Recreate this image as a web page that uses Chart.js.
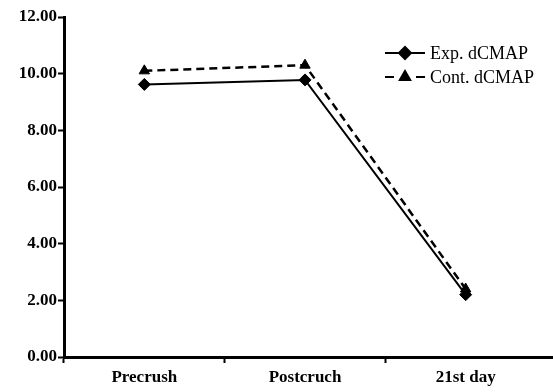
<!DOCTYPE html>
<html>
<head>
<meta charset="utf-8">
<script src="https://cdn.jsdelivr.net/npm/chart.js@4"></script>
<style>
  html, body { margin: 0; padding: 0; background: #fff; }
  #wrap { width: 553px; height: 392px; }
</style>
</head>
<body>
<div id="wrap"><canvas id="myChart"></canvas></div>
<script>
const categories = ["Precrush", "Postcruch", "21st day"];
const expValues = [9.62, 9.78, 2.2];
const contValues = [10.1, 10.3, 2.4];
const yTicks = [0, 2, 4, 6, 8, 10, 12];

const fontFamily = "'Liberation Serif', 'DejaVu Serif', serif";

// legend drawn inside the plot, top right (line + marker + label)
const innerLegend = {
  id: "innerLegend",
  afterDraw(chart) {
    const ctx = chart.ctx;
    const x0 = 385;
    let y = 53;
    chart.data.datasets.forEach((ds) => {
      ctx.save();
      ctx.strokeStyle = "#000";
      ctx.lineWidth = 2;
      ctx.beginPath();
      if (ds.borderDash) {
        ctx.moveTo(x0, y);
        ctx.lineTo(x0 + 9, y);
        ctx.moveTo(x0 + 31, y);
        ctx.lineTo(x0 + 40, y);
      } else {
        ctx.moveTo(x0, y);
        ctx.lineTo(x0 + 40, y);
      }
      ctx.stroke();
      Chart.helpers.drawPoint(ctx, {
        pointStyle: ds.pointStyle,
        radius: ds.pointRadius,
        rotation: 0,
        borderWidth: 1,
      }, x0 + 20, y);
      ctx.fillStyle = "#000";
      ctx.font = "18px " + fontFamily;
      ctx.textBaseline = "middle";
      ctx.fillText(ds.label, x0 + 45, y + 1);
      ctx.restore();
      y += 24;
    });
    // x axis line runs on to the right edge of the picture
    const xs = chart.scales.x;
    ctx.save();
    ctx.fillStyle = "#000";
    ctx.fillRect(chart.chartArea.right - 2, Math.floor(xs.top) - 1, chart.width, 3);
    ctx.restore();
  },
};

const ctx = document.getElementById("myChart").getContext("2d");
const myChart = new Chart(ctx, {
  type: "line",
  data: {
    labels: categories,
    datasets: [
      {
        label: "Exp. dCMAP",
        data: expValues,
        borderColor: "#000",
        backgroundColor: "#000",
        borderWidth: 2,
        pointStyle: "rectRot",
        pointRadius: 6,
        pointBorderWidth: 1,
        tension: 0,
      },
      {
        label: "Cont. dCMAP",
        data: contValues,
        borderColor: "#000",
        backgroundColor: "#000",
        borderWidth: 2.5,
        borderDash: [8, 5],
        pointStyle: "triangle",
        pointRadius: 6,
        pointBorderWidth: 1,
        tension: 0,
      },
    ],
  },
  options: {
    responsive: true,
    maintainAspectRatio: false,
    animation: false,
    layout: { padding: { top: 17, right: 0, left: 0, bottom: 0 } },
    plugins: {
      legend: { display: false },
      tooltip: { enabled: false },
    },
    scales: {
      x: {
        offset: true,
        grid: {
          offset: true,
          drawOnChartArea: false,
          drawTicks: true,
          tickLength: 6,
          // no tick mark at the far right end
          tickColor: (c) => (c.type === "tick" ? "#000" : "rgba(0,0,0,0)"),
          tickWidth: 2,
        },
        border: { color: "#000", width: 3 },
        ticks: {
          color: "#000",
          padding: 4,
          font: { family: fontFamily, size: 17, weight: "bold" },
        },
        afterFit(scale) {
          scale.height = 35;
        },
      },
      y: {
        min: 0,
        max: 12,
        afterBuildTicks(scale) {
          scale.ticks = yTicks.map((v) => ({ value: v }));
        },
        grid: {
          drawOnChartArea: false,
          drawTicks: true,
          tickLength: 6,
          tickColor: "#000",
          tickWidth: 2,
        },
        border: { color: "#000", width: 3 },
        ticks: {
          color: "#000",
          padding: 1,
          font: { family: fontFamily, size: 17, weight: "bold" },
          callback: (v) => Number(v).toFixed(2),
        },
        afterFit(scale) {
          scale.width = 64;
        },
      },
    },
  },
  plugins: [innerLegend],
});
</script>
</body>
</html>
